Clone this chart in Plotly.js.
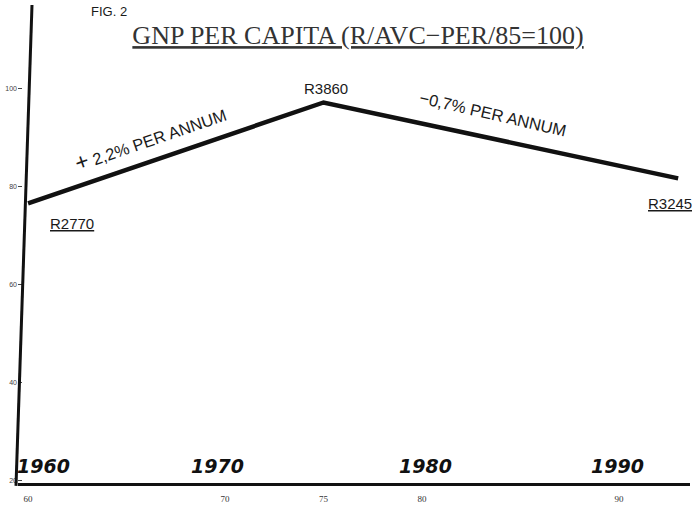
<!DOCTYPE html>
<html>
<head>
<meta charset="utf-8">
<script src="https://cdn.plot.ly/plotly-3.0.1.min.js"></script>
<style>html,body{margin:0;padding:0;background:#fff;}#chart{width:692px;height:515px;}</style>
</head>
<body>
<div id="chart"></div>
<script>
// Data (index scale on the left axis; rand labels as printed)
const years = [1960, 1975, 1993];
const indexValues = [76.5, 97.1, 81.6];
const randLabels = ["R2770", "R3860", "R3245"];
const growthLabels = ["+ 2,2% PER ANNUM", "\u22120,7% PER ANNUM"];
const yTickVals = [20, 40, 60, 80, 100];
const yTickText = ["20", "40", "60", "80", "100"];
const xTickVals = [1960, 1970, 1975, 1980, 1990];
const xTickText = ["60", "70", "75", "80", "90"];
const handYears = [1960, 1970, 1980, 1990];

const ink = "#1a1a1a";
const sans = "Liberation Sans, Arial, sans-serif";

const trace = {
  x: years, y: indexValues, type: "scatter", mode: "lines",
  line: {color: "#111", width: 4.5}, hoverinfo: "skip"
};

const annotations = [];
// Rand value labels
annotations.push({x: years[0], y: indexValues[0], xref: "x", yref: "y", text: "<u>" + randLabels[0] + "</u>",
  showarrow: false, xshift: 44, yshift: -20, font: {family: sans, size: 15, color: ink}});
annotations.push({x: years[1], y: indexValues[1], xref: "x", yref: "y", text: randLabels[1],
  showarrow: false, xshift: 2, yshift: 14, font: {family: sans, size: 15, color: ink}});
annotations.push({x: years[2], y: indexValues[2], xref: "x", yref: "y", text: "<u>" + randLabels[2] + "</u>",
  showarrow: false, xshift: -8, yshift: -25, font: {family: sans, size: 15, color: ink}});
// Growth labels along the segments
annotations.push({x: 1966.2, y: 89.9, xref: "x", yref: "y",
  text: "<span style='font-size:23px'>+</span> " + growthLabels[0].slice(2),
  showarrow: false, textangle: -19, font: {family: sans, size: 16.5, color: ink}});
annotations.push({x: 1983.6, y: 94.8, xref: "x", yref: "y", text: growthLabels[1],
  showarrow: false, textangle: 13, font: {family: sans, size: 16.5, color: ink}});
// Hand-written decade labels
const handShift = [15, -8, 3, -2];
handYears.forEach((yr, i) => {
  annotations.push({x: yr, y: 0.008, xref: "x", yref: "paper", yanchor: "bottom", text: "<b><i>" + yr + "</i></b>",
    showarrow: false, xshift: handShift[i],
    font: {family: "DejaVu Sans, sans-serif", size: 19, color: "#111"}});
});
// Figure label
annotations.push({x: (89 - 18) / 672, y: (483 - 12) / 478, xref: "paper", yref: "paper",
  text: "FIG. 2", showarrow: false, xanchor: "left", yanchor: "middle",
  font: {family: sans, size: 13, color: ink}});

const layout = {
  width: 692, height: 515,
  margin: {l: 18, r: 2, t: 5, b: 32},
  paper_bgcolor: "#fff", plot_bgcolor: "#fff",
  showlegend: false,
  title: {text: "<u>GNP PER CAPITA (R/AVC\u2212PER/85=100)</u>", x: 358 / 692, xanchor: "center",
    y: 1 - 35 / 515, yanchor: "middle",
    font: {family: "Liberation Serif, Times New Roman, serif", size: 26, color: "#333"}},
  xaxis: {range: [1959.49, 1993.6], showgrid: false, zeroline: false,
    showline: true, linecolor: "#111", linewidth: 2.5,
    tickvals: xTickVals, ticktext: xTickText, ticks: "", ticklen: 0, ticklabelstandoff: 6,
    tickfont: {family: "Liberation Serif, serif", size: 9, color: "#333"}},
  yaxis: {range: [19.4, 117], showgrid: false, zeroline: false, showline: false,
    tickvals: yTickVals, ticktext: yTickText, ticks: "inside", ticklen: 4, tickcolor: "#444",
    tickfont: {family: sans, size: 7, color: "#444"}},
  shapes: [{type: "line", xref: "paper", yref: "paper", x0: (32 - 18) / 672, y0: 1.0,
    x1: (16 - 18) / 672, y1: -0.006, line: {color: "#111", width: 3}}],
  annotations: annotations
};

Plotly.newPlot("chart", [trace], layout, {displayModeBar: false, staticPlot: true});
</script>
</body>
</html>
